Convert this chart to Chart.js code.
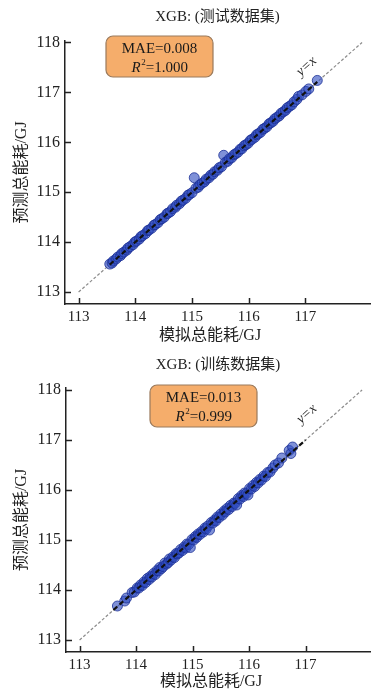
<!DOCTYPE html>
<html>
<head>
<meta charset="utf-8">
<script src="https://cdn.jsdelivr.net/npm/chart.js@4.4.1/dist/chart.umd.min.js"></script>
<style>
  html, body { margin: 0; padding: 0; background: #fff; }
  canvas { display: block; }
</style>
</head>
<body>
<canvas id="testChart" width="376" height="346"></canvas>
<canvas id="trainChart" width="376" height="346"></canvas>
<script>
// Tick values shared by both panels
const xTicks = [113, 114, 115, 116, 117];
const yTicks = [113, 114, 115, 116, 117, 118];

// Reference diagonal y = x
const diagLine = [113, 118];

// Test set: simulated vs predicted total energy (GJ)
const testSim = [113.55, 113.59, 113.61, 113.66, 113.69, 113.74, 113.76, 113.80, 113.85, 113.87,
  113.91, 113.96, 113.99, 114.02, 114.07, 114.10, 114.13, 114.18, 114.22, 114.24,
  114.29, 114.33, 114.35, 114.40, 114.44, 114.47, 114.51, 114.56, 114.58, 114.62,
  114.66, 114.71, 114.73, 114.78, 114.81, 114.84, 114.89, 114.93, 114.95, 115.00,
  115.04, 115.07, 115.11, 115.14, 115.18, 115.22, 115.25, 115.30, 115.33, 115.37,
  115.40, 115.45, 115.48, 115.52, 115.56, 115.59, 115.63, 115.66, 115.70, 115.74,
  115.77, 115.81, 115.85, 115.88, 115.92, 115.95, 115.99, 116.03, 116.06, 116.11,
  116.14, 116.17, 116.21, 116.25, 116.28, 116.32, 116.36, 116.39, 116.43, 116.46,
  116.50, 116.54, 116.57, 116.61, 116.65, 116.68, 116.72, 116.76, 116.80, 116.85,
  116.88, 116.94, 117.01, 117.06, 117.21];
const testPred = [113.56, 113.58, 113.62, 113.66, 113.70, 113.73, 113.77, 113.80, 113.84, 113.88,
  113.91, 113.95, 114.00, 114.02, 114.06, 114.11, 114.13, 114.17, 114.23, 114.24,
  114.28, 114.34, 114.35, 114.39, 114.45, 114.47, 114.50, 114.57, 114.58, 114.61,
  114.67, 114.70, 114.74, 114.77, 114.82, 114.84, 114.88, 114.94, 114.95, 114.99,
  115.29, 115.08, 115.10, 115.15, 115.18, 115.21, 115.26, 115.29, 115.34, 115.36,
  115.41, 115.44, 115.49, 115.51, 115.74, 115.60, 115.62, 115.67, 115.69, 115.75,
  115.77, 115.80, 115.86, 115.87, 115.93, 115.95, 115.98, 116.04, 116.06, 116.10,
  116.15, 116.17, 116.20, 116.26, 116.28, 116.31, 116.37, 116.39, 116.42, 116.47,
  116.50, 116.53, 116.58, 116.61, 116.64, 116.69, 116.72, 116.75, 116.81, 116.86,
  116.92, 116.95, 117.02, 117.07, 117.24];
const testFit = [113.55, 117.21];

// Training set: simulated vs predicted total energy (GJ)
const trainSim = [113.67, 113.80, 113.83, 113.93, 113.97, 114.02, 114.05, 114.08, 114.11, 114.14,
  114.17, 114.20, 114.23, 114.25, 114.28, 114.31, 114.34, 114.37, 114.40, 114.42,
  114.45, 114.48, 114.51, 114.54, 114.57, 114.59, 114.62, 114.65, 114.68, 114.71,
  114.73, 114.76, 114.79, 114.82, 114.85, 114.88, 114.90, 114.93, 114.96, 114.99,
  115.02, 115.05, 115.07, 115.10, 115.13, 115.16, 115.19, 115.22, 115.24, 115.27,
  115.30, 115.33, 115.36, 115.39, 115.41, 115.44, 115.47, 115.50, 115.53, 115.56,
  115.58, 115.61, 115.64, 115.67, 115.70, 115.73, 115.75, 115.78, 115.81, 115.84,
  115.87, 115.90, 115.92, 115.95, 115.98, 116.01, 116.04, 116.07, 116.10, 116.13,
  116.16, 116.19, 116.22, 116.26, 116.29, 116.33, 116.37, 116.42, 116.46, 116.52,
  116.58, 116.71, 116.74, 116.77];
const trainPred = [113.68, 113.78, 113.84, 113.95, 113.96, 114.04, 114.04, 114.10, 114.09, 114.16,
  114.15, 114.23, 114.21, 114.27, 114.26, 114.33, 114.31, 114.39, 114.38, 114.45,
  114.43, 114.47, 114.54, 114.52, 114.55, 114.62, 114.60, 114.66, 114.65, 114.73,
  114.72, 114.74, 114.81, 114.79, 114.86, 114.84, 114.92, 114.91, 114.85, 115.01,
  115.00, 115.07, 115.05, 115.12, 115.11, 115.17, 115.16, 115.24, 115.22, 115.28,
  115.20, 115.35, 115.34, 115.40, 115.38, 115.46, 115.45, 115.52, 115.50, 115.58,
  115.56, 115.63, 115.61, 115.69, 115.67, 115.74, 115.73, 115.70, 115.83, 115.82,
  115.89, 115.87, 115.94, 115.93, 115.90, 116.03, 116.02, 116.09, 116.07, 116.15,
  116.14, 116.21, 116.20, 116.28, 116.27, 116.35, 116.36, 116.44, 116.50, 116.54,
  116.64, 116.79, 116.73, 116.86];
const trainFit = [113.60, 117.00];

const SERIF = "'Liberation Serif', 'Noto Sans CJK SC', serif";
Chart.defaults.font.family = SERIF;
Chart.defaults.color = '#222';

const pairs = (xs, ys) => xs.map((x, i) => ({ x: x, y: ys[i] }));
const line = (vals) => vals.map(v => ({ x: v, y: v }));

// Tick marks drawn inside the axes, like the classic "in" tick direction
const inwardTicks = {
  id: 'inwardTicks',
  afterDraw(chart) {
    const { ctx, chartArea, scales } = chart;
    ctx.save();
    ctx.strokeStyle = '#222';
    ctx.lineWidth = 1.5;
    ctx.beginPath();
    scales.x.ticks.forEach(t => {
      const px = Math.round(scales.x.getPixelForValue(t.value)) + 0.5;
      ctx.moveTo(px, chartArea.bottom);
      ctx.lineTo(px, chartArea.bottom - 6);
    });
    scales.y.ticks.forEach(t => {
      const py = Math.round(scales.y.getPixelForValue(t.value)) + 0.5;
      ctx.moveTo(chartArea.left, py);
      ctx.lineTo(chartArea.left + 6, py);
    });
    ctx.stroke();
    ctx.restore();
  }
};

// Orange metrics box with MAE and R²
const metricsBox = {
  id: 'metricsBox',
  afterDraw(chart, args, opts) {
    const { ctx } = chart;
    const { x, y, w, h, mae, r2 } = opts;
    ctx.save();
    const r = 7;
    ctx.beginPath();
    ctx.moveTo(x + r, y);
    ctx.arcTo(x + w, y, x + w, y + h, r);
    ctx.arcTo(x + w, y + h, x, y + h, r);
    ctx.arcTo(x, y + h, x, y, r);
    ctx.arcTo(x, y, x + w, y, r);
    ctx.closePath();
    ctx.fillStyle = '#F5AD6B';
    ctx.fill();
    ctx.strokeStyle = '#9a7a5c';
    ctx.lineWidth = 1.2;
    ctx.stroke();

    const cx = x + w / 2;
    ctx.fillStyle = '#1a1a1a';
    ctx.textBaseline = 'middle';
    ctx.textAlign = 'center';
    ctx.font = '15px ' + SERIF;
    ctx.fillText('MAE=' + mae, cx, y + 13);

    // R² line: italic R, raised 2, then the value
    const fR = 'italic 15px ' + SERIF;
    const fSup = '9px ' + SERIF;
    const fN = '15px ' + SERIF;
    const rest = '=' + r2;
    ctx.font = fR; const wR = ctx.measureText('R').width;
    ctx.font = fSup; const wS = ctx.measureText('2').width;
    ctx.font = fN; const wN = ctx.measureText(rest).width;
    let sx = cx - (wR + wS + wN) / 2;
    const ly = y + 32;
    ctx.textAlign = 'left';
    ctx.font = fR; ctx.fillText('R', sx, ly); sx += wR + 0.5;
    ctx.font = fSup; ctx.fillText('2', sx, ly - 5); sx += wS;
    ctx.font = fN; ctx.fillText(rest, sx, ly);
    ctx.restore();
  }
};

// "y=x" label written along the diagonal
const diagLabel = {
  id: 'diagLabel',
  afterDraw(chart, args, opts) {
    const { ctx, scales } = chart;
    const x0 = scales.x.getPixelForValue(113), y0 = scales.y.getPixelForValue(113);
    const x1 = scales.x.getPixelForValue(118), y1 = scales.y.getPixelForValue(118);
    const ang = Math.atan2(y1 - y0, x1 - x0);
    const px = scales.x.getPixelForValue(opts.at[0]);
    const py = scales.y.getPixelForValue(opts.at[1]);
    ctx.save();
    ctx.translate(px, py);
    ctx.rotate(ang);
    ctx.font = 'italic 14px ' + SERIF;
    ctx.fillStyle = '#222';
    ctx.textAlign = 'center';
    ctx.textBaseline = 'middle';
    ctx.fillText('y=x', 0, 0);
    ctx.restore();
  }
};

// Horizontal axis caption
const xCaption = {
  id: 'xCaption',
  afterDraw(chart, args, opts) {
    const { ctx, chartArea } = chart;
    ctx.save();
    ctx.font = '16px ' + SERIF;
    ctx.fillStyle = '#222';
    ctx.textAlign = 'center';
    ctx.textBaseline = 'middle';
    ctx.fillText(opts.text, chartArea.left + 145, opts.y);
    ctx.restore();
  }
};

function buildPanel(id, cfg) {
  return new Chart(document.getElementById(id), {
    type: 'scatter',
    data: {
      datasets: [
        {
          type: 'line', data: line(cfg.fit), borderColor: '#111', borderWidth: 2.2,
          borderDash: [5, 3], pointRadius: 0, fill: false, order: 0
        },
        {
          data: pairs(cfg.sim, cfg.pred), backgroundColor: 'rgba(48,78,192,0.62)',
          borderColor: 'rgba(28,48,150,0.8)', borderWidth: 1, pointRadius: 5, order: 1
        },
        {
          type: 'line', data: line(diagLine), borderColor: '#8c8c8c', borderWidth: 1.2,
          borderDash: [3, 2], pointRadius: 0, fill: false, order: 2
        }
      ]
    },
    options: {
      responsive: false,
      animation: false,
      devicePixelRatio: 1,
      layout: { padding: 0 },
      plugins: {
        legend: { display: false },
        tooltip: { enabled: false },
        title: {
          display: true, text: cfg.title, fullSize: false, color: '#222',
          font: { size: 15, weight: 'normal', family: SERIF, lineHeight: 1.2 },
          padding: { top: cfg.titleTop, bottom: cfg.titleBottom }
        },
        metricsBox: cfg.box,
        diagLabel: { at: [117.02, 117.52] },
        xCaption: { text: '模拟总能耗/GJ', y: 336 }
      },
      scales: {
        x: {
          type: 'linear', min: 112.76, max: 118.14,
          afterBuildTicks: s => { s.ticks = xTicks.map(v => ({ value: v })); },
          afterFit: s => { s.height = cfg.xHeight; },
          grid: { display: true, drawOnChartArea: false, drawTicks: false },
          border: { display: true, color: '#222', width: 1.5 },
          ticks: { font: { size: 15, family: SERIF }, color: '#222', padding: 4, maxRotation: 0 }
        },
        y: {
          type: 'linear', min: 112.76, max: cfg.yMax,
          afterBuildTicks: s => { s.ticks = yTicks.map(v => ({ value: v })); },
          afterFit: s => { s.width = cfg.yWidth; },
          grid: { display: true, drawOnChartArea: false, drawTicks: false },
          border: { display: true, color: '#222', width: 1.5 },
          ticks: { font: { size: 16, family: SERIF }, color: '#222', padding: 5 },
          title: {
            display: true, text: '预测总能耗/GJ', color: '#222',
            font: { size: 16, family: SERIF, lineHeight: 1.2 }, padding: { top: 12, bottom: 0 }
          }
        }
      }
    },
    plugins: [inwardTicks, metricsBox, diagLabel, xCaption]
  });
}

buildPanel('testChart', {
  title: 'XGB: (测试数据集)', sim: testSim, pred: testPred, fit: testFit,
  titleTop: 8, titleBottom: 15, xHeight: 42, yWidth: 65, yMax: 118.03,
  box: { x: 106, y: 36, w: 107, h: 41, mae: '0.008', r2: '1.000' }
});

buildPanel('trainChart', {
  title: 'XGB: (训练数据集)', sim: trainSim, pred: trainPred, fit: trainFit,
  titleTop: 10, titleBottom: 14, xHeight: 40, yWidth: 66, yMax: 118.04,
  box: { x: 150, y: 39, w: 107, h: 42, mae: '0.013', r2: '0.999' }
});
</script>
</body>
</html>
